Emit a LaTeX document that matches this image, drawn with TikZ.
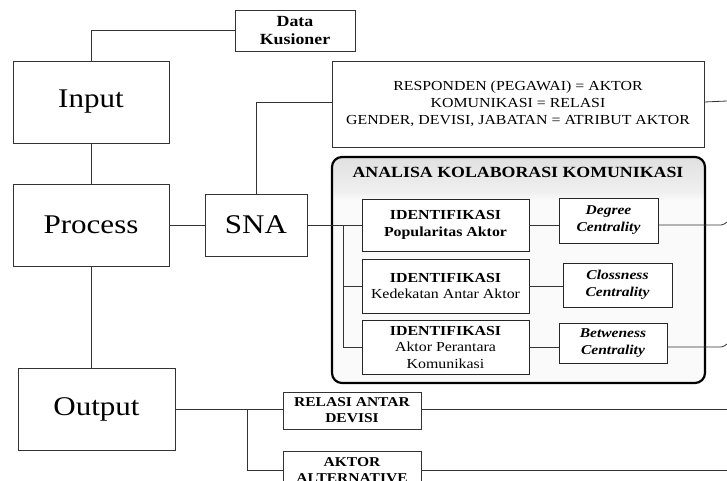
\documentclass[tikz,border=0pt]{standalone}
\usepackage{fontspec}
\setmainfont{Liberation Serif}[FakeStretch=1.15]
\usetikzlibrary{positioning,calc}

\begin{document}
\begin{tikzpicture}[x=1pt, y=-1pt,
  every node/.style={inner sep=0pt, align=center},
  stagebox/.style={draw=black!80, line width=0.8pt, fill=white, font=\fontsize{27}{30}\selectfont},
  databox/.style={draw=black!80, line width=0.8pt, fill=white, font=\fontsize{15.5}{18}\selectfont\bfseries},
  infobox/.style={draw=black!80, line width=0.8pt, fill=white, font=\fontsize{13.8}{17}\selectfont},
  idbox/.style={draw=black!85, line width=0.8pt, fill=white, minimum width=167pt, font=\fontsize{13.8}{16.5}\selectfont},
  cenbox/.style={draw=black!85, line width=0.8pt, fill=white, font=\fontsize{13.5}{17}\selectfont\bfseries\itshape},
  outbox/.style={draw=black!80, line width=0.8pt, fill=white, minimum width=138pt, font=\fontsize{13.5}{16}\selectfont\bfseries},
  panel/.style={draw=black, line width=2.2pt, rounded corners=10pt},
  link/.style={draw=black!80, line width=0.8pt}
]
\clip (0,0) rectangle (727,481);

% analysis panel
\fill[gray!4, rounded corners=10pt] (332,157) rectangle (705,383);
\begin{scope}
  \clip[rounded corners=10pt] (332,157) rectangle (705,383);
  \shade[top color=gray!24, bottom color=gray!12] (332,157) rectangle (705,192);
  \shade[top color=gray!12, bottom color=gray!4] (332,192) rectangle (705,200);
\end{scope}
\draw[panel] (332,157) rectangle (705,383);
\node[font=\fontsize{15.5}{18}\selectfont\bfseries] (head) at (518,172) {ANALISA KOLABORASI KOMUNIKASI};

% stages
\node[databox, minimum width=120pt, minimum height=41pt] (data) at (295,30.5) {Data\\Kusioner};
\node[stagebox, minimum width=156pt, minimum height=82pt] (input) at (91,102) {Input};
\node[stagebox, minimum width=156pt, minimum height=82pt] (process) at (91,225) {Process};
\node[stagebox, minimum width=102pt, minimum height=62pt] (sna) at (256,225) {SNA};
\node[stagebox, minimum width=157pt, minimum height=82pt] (output) at (96.5,409) {Output};
\node[infobox, minimum width=372pt, minimum height=86pt] (resp) at (518,104) {RESPONDEN (PEGAWAI) = AKTOR\\KOMUNIKASI = RELASI\\GENDER, DEVISI, JABATAN = ATRIBUT AKTOR};

% identification
\node[idbox, minimum height=52pt] (id1) at (445.5,225) {\textbf{IDENTIFIKASI}\\\textbf{Popularitas Aktor}};
\node[idbox, minimum height=54pt] (id2) at (445.5,286) {\textbf{IDENTIFIKASI}\\Kedekatan Antar Aktor};
\node[idbox, minimum height=54pt] (id3) at (445.5,347) {\textbf{IDENTIFIKASI}\\Aktor Perantara\\Komunikasi};
\node[cenbox, minimum width=99pt, minimum height=45pt] (deg) at (608.5,220.5) {Degree\\Centrality};
\node[cenbox, minimum width=109pt, minimum height=44pt] (clo) at (617.5,285) {Clossness\\Centrality};
\node[cenbox, minimum width=108pt, minimum height=40pt] (bet) at (613,343) {Betweness\\Centrality};

% results
\node[outbox, minimum height=37pt] (relasi) at (352,410.5) {RELASI ANTAR\\DEVISI};
\node[outbox, minimum height=38pt] (aktor) at (352,470) {AKTOR\\ALTERNATIVE};

% free ends and junctions
\coordinate (spine) at (343,225);
\coordinate (fork) at (247,409);
\coordinate (respend) at (727,101);
\coordinate (degend) at (721,225);
\coordinate (betend) at (721,347);
\coordinate (relend) at (727,409);
\coordinate (aktend) at (727,470);

\draw[link] (data.west) -| (input.north);
\draw[link] (input.south) -- (process.north);
\draw[link] (process.east) -- (sna.west);
\draw[link] (process.south) -- (process.south |- output.north);
\draw[link] (sna.north) |- (resp.west |- 0,102);
\draw[link] (resp.east |- 0,102) -- (respend);
\draw[link] (sna.east) -- (spine) |- (id3.west);
\draw[link] (spine) -- (id1.west);
\draw[link] (spine |- id2.west) -- (id2.west);
\draw[link] (id1.east) -- (id1.east -| deg.west);
\draw[link] (id2.east) -- (id2.east -| clo.west);
\draw[link] (id3.east) -- (id3.east -| bet.west);
\draw[link] (deg.east |- degend) -- (degend) .. controls +(3,0) and +(-2,1) .. +(6,-3);
\draw[link] (bet.east |- betend) -- (betend) .. controls +(3,0) and +(-2,1) .. +(6,-3);
\draw[link] (output.east) -- (output.east -| relasi.west);
\draw[link] (fork) |- (aktor.west);
\draw[link] (relasi.east |- relend) -- (relend);
\draw[link] (aktor.east) -- (aktend);

\end{tikzpicture}
\end{document}
